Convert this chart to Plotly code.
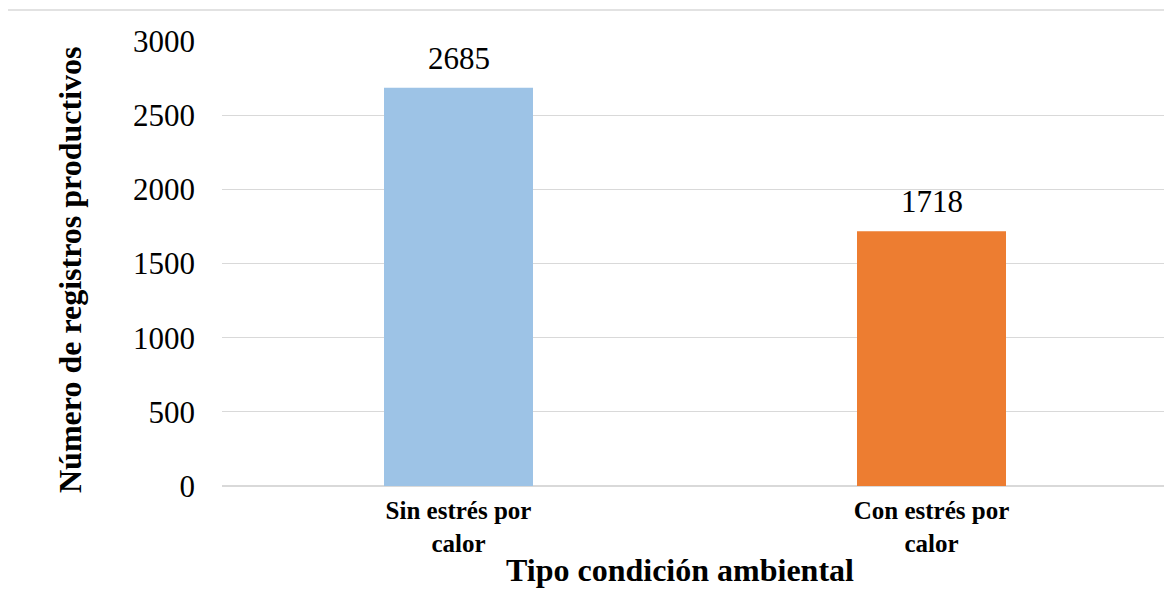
import plotly.graph_objects as go

categories = ["Sin estrés por<br>calor", "Con estrés por<br>calor"]
values = [2685, 1718]
bar_colors = ["#9DC3E6", "#ED7D31"]
y_ticks = [0, 500, 1000, 1500, 2000, 2500, 3000]

# page has an 8px body margin; the figure is sized/placed to compensate
OFF = 8
W, H = 1172 - OFF, 590 - OFF
L, R, T, B = 222 - OFF, 4, 41 - OFF, 104
pw, ph = W - L - R, H - T - B

fig = go.Figure()
fig.add_trace(go.Bar(
    x=categories, y=values, marker=dict(color=bar_colors, line=dict(width=0)),
    width=0.315, showlegend=False,
))

for c, v in zip(categories, values):
    fig.add_annotation(x=c, y=v, text=str(v), showarrow=False, yanchor="bottom",
                       yshift=10, font=dict(family="Liberation Serif", size=31, color="black"))

def px_x(p):
    return (p - OFF - L) / pw

def px_y(p):
    return (H - B - (p - OFF)) / ph

fig.add_annotation(xref="paper", yref="paper", x=px_x(680), y=px_y(589),
                   text="<b>Tipo condición ambiental</b>", showarrow=False,
                   xanchor="center", yanchor="bottom", borderpad=0,
                   font=dict(family="Liberation Serif", size=32, color="black"))
fig.add_annotation(xref="paper", yref="paper", x=px_x(70), y=px_y(270),
                   text="<b>Número de registros productivos</b>", showarrow=False,
                   textangle=-90, xanchor="center", yanchor="middle",
                   font=dict(family="Liberation Serif", size=32, color="black"))

fig.add_shape(type="rect", xref="paper", yref="paper",
              x0=px_x(7), x1=px_x(1185), y0=px_y(605), y1=px_y(10),
              line=dict(color="#D9D9D9", width=1.5), fillcolor="rgba(0,0,0,0)", layer="below")

fig.update_layout(
    width=W, height=H,
    margin=dict(l=L, r=R, t=T, b=B, pad=0),
    paper_bgcolor="white", plot_bgcolor="white",
    font=dict(family="Liberation Serif", color="black"),
    xaxis=dict(showgrid=False, showline=False, zeroline=False, ticks="",
               tickfont=dict(family="Liberation Serif", size=25, color="black", weight="bold"),
               ticklabelstandoff=7),
    yaxis=dict(range=[0, 3000], tickvals=y_ticks, showgrid=True, gridcolor="#D9D9D9",
               gridwidth=1.2, zeroline=True, zerolinecolor="#D9D9D9", zerolinewidth=1.5,
               showline=False, ticks="",
               tickfont=dict(family="Liberation Serif", size=31, color="black"),
               ticklabelstandoff=26),
)

fig.write_html("out.html")
